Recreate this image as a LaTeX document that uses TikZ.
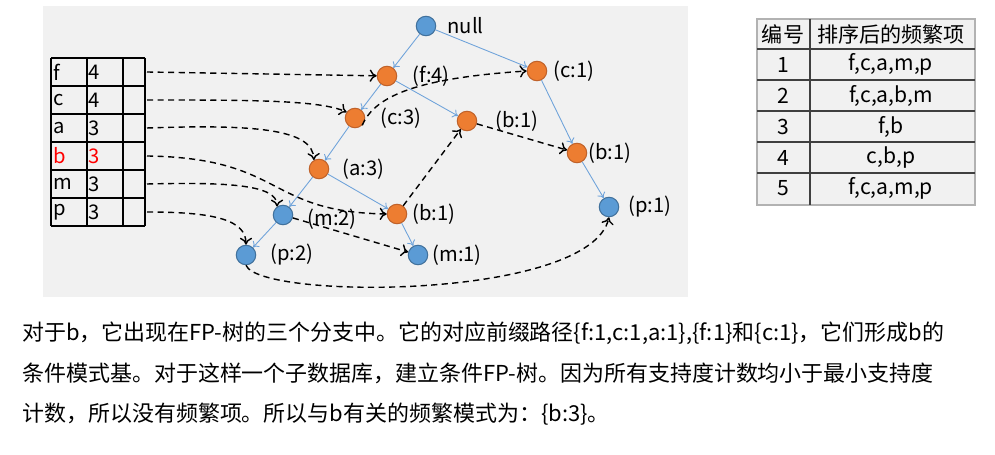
\documentclass[tikz,border=0pt]{standalone}
\usepackage{fontspec}
\setmainfont{Noto Sans CJK SC}
\usetikzlibrary{arrows.meta,positioning}

\definecolor{fporange}{HTML}{ED7D31}
\definecolor{fporangeline}{HTML}{C0622A}
\definecolor{fpblue}{HTML}{5B9BD5}
\definecolor{fpblueline}{HTML}{41719C}
\definecolor{treeline}{HTML}{6FA3DA}
\definecolor{panel}{HTML}{F1F1F1}

\tikzset{
    fpnode/.style={circle,minimum size=0.39cm,inner sep=0pt,line width=0.6pt},
    orangenode/.style={fpnode,fill=fporange,draw=fporangeline},
    bluenode/.style={fpnode,fill=fpblue,draw=fpblueline},
    tlabel/.style={font=\fontsize{11.5}{12}\selectfont,inner sep=0pt},
    hcell/.style={font=\fontsize{11.5}{12}\selectfont,anchor=west,inner sep=0pt},
    treeedge/.style={-{To[length=3pt,width=5pt]},treeline,line width=0.5pt},
    headlink/.style={-{To[length=4pt,width=7pt]},dash pattern=on 3.5pt off 2.5pt,line width=0.8pt},
}

\begin{document}
\begin{tikzpicture}[x=0.02cm,y=-0.02cm]
    \useasboundingbox (0,0) rectangle (995,455);

    % Shaded panel behind the tree
    \fill[panel] (43,6) rectangle (688,297);

    % Header table
    \foreach \y in {58,86,...,226}
        \draw[line width=0.6pt] (51,\y) -- (145,\y);
    \foreach \x in {51,87,123,145}
        \draw[line width=0.6pt] (\x,58) -- (\x,226);
    \foreach \it/\cnt/\col [count=\i] in {f/4/black,c/4/black,a/3/black,b/3/red,m/3/black,p/3/black} {
        \node[hcell,text=\col] (h\it) at (53,44+28*\i) {\it};
        \node[hcell,text=\col] (n\it) at (88,44+28*\i) {\cnt};
        \coordinate (s\it) at (147,44+28*\i);
    }

    % Tree nodes
    \node[bluenode]   (null) at (426,26)  {};
    \node[orangenode] (f4)   at (387,76)  {};
    \node[orangenode] (c1)   at (537,71)  {};
    \node[orangenode] (c3)   at (355,118) {};
    \node[orangenode] (b1a)  at (467,121) {};
    \node[orangenode] (b1b)  at (577,153) {};
    \node[orangenode] (a3)   at (319,169) {};
    \node[orangenode] (b1c)  at (397,214) {};
    \node[bluenode]   (m2)   at (283,215) {};
    \node[bluenode]   (p1)   at (609,207) {};
    \node[bluenode]   (p2)   at (246,255) {};
    \node[bluenode]   (m1)   at (418,255) {};

    % Labels
    \node[tlabel,right=0.22cm of null] (lnull) {null};
    \node[tlabel,right=0.3cm of f4]    (lf4)   {(f:4)};
    \node[tlabel,right=0.12cm of c1]   (lc1)   {(c:1)};
    \node[tlabel,right=0.3cm of c3]    (lc3)   {(c:3)};
    \node[tlabel,right=0.36cm of b1a]  (lb1a)  {(b:1)};
    \node[tlabel,right=0.02cm of b1b]  (lb1b)  {(b:1)};
    \node[tlabel,right=0.26cm of a3]   (la3)   {(a:3)};
    \node[tlabel,right=0.1cm of b1c]   (lb1c)  {(b:1)};
    \node[tlabel,right=0.28cm of m2,yshift=-0.08cm] (lm2) {(m:2)};
    \node[tlabel,right=0.18cm of p1]   (lp1)   {(p:1)};
    \node[tlabel,right=0.28cm of p2]   (lp2)   {(p:2)};
    \node[tlabel,right=0.08cm of m1]   (lm1)   {(m:1)};

    % Tree edges
    \draw[treeedge] (null) -- (f4);
    \draw[treeedge] (null) -- (c1);
    \draw[treeedge] (f4) -- (c3);
    \draw[treeedge] (f4) -- (b1a);
    \draw[treeedge] (c3) -- (a3);
    \draw[treeedge] (a3) -- (m2);
    \draw[treeedge] (a3) -- (b1c);
    \draw[treeedge] (m2) -- (p2);
    \draw[treeedge] (b1c) -- (m1);
    \draw[treeedge] (c1) -- (b1b);
    \draw[treeedge] (b1b) -- (p1);

    % Links from the header table
    \draw[headlink] (sf) -- (f4);
    \draw[headlink] (sc) .. controls (250,100) and (320,100) .. (c3.145);
    \draw[headlink] (sa) .. controls (260,124) and (313,130) .. (a3.120);
    \draw[headlink] (sb) .. controls (285,158) and (265,212) .. (b1c.west);
    \draw[headlink] (sm) .. controls (230,182) and (277,185) .. (m2.125);
    \draw[headlink] (sp) .. controls (215,212) and (246,220) .. (p2.north);

    % Links between nodes of the same item
    \draw[headlink] (c3.south east) .. controls (375,95) and (420,78) .. (c1.west);
    \draw[headlink] (b1c) -- (b1a);
    \draw[headlink] (b1a) -- (b1b);
    \draw[headlink] (m2) -- (m1);
    \draw[headlink] (p2.south) .. controls (260,300) and (590,300) .. (p1.south);

    % Sorted transactions
    \fill[panel] (757,19) rectangle (975,205);
    \draw[gray!60,line width=1.2pt] (757,19) rectangle (975,205);
    \draw[black!75,line width=1pt] (810,19) -- (810,205);
    \foreach \y in {49,80,111,142,173}
        \draw[black!75,line width=1pt] (757,\y) -- (975,\y);
    \node[tlabel,font=\fontsize{12}{13}\selectfont] (tno) at (783,34) {编号};
    \node[tlabel,font=\fontsize{12}{13}\selectfont] (titems) at (891,34) {排序后的频繁项};
    \foreach \items [count=\i] in {{f,c,a,m,p},{f,c,a,b,m},{f,b},{c,b,p},{f,c,a,m,p}} {
        \node[tlabel,font=\fontsize{12}{13}\selectfont] (no\i) at (783,33.5+31*\i) {\i};
        \node[tlabel,font=\fontsize{12}{13}\selectfont] (row\i) at (891,33.5+31*\i) {\items};
    }

    % Explanation
    \node[anchor=north west,align=left,inner sep=0pt,font=\fontsize{12.5}{23}\selectfont] (note) at (22,322)
        {对于b，它出现在FP-树的三个分支中。它的对应前缀路径\{f:1,c:1,a:1\},\{f:1\}和\{c:1\}，它们形成b的\\
         条件模式基。对于这样一个子数据库，建立条件FP-树。因为所有支持度计数均小于最小支持度\\
         计数，所以没有频繁项。所以与b有关的频繁模式为：\{b:3\}。};
\end{tikzpicture}
\end{document}
